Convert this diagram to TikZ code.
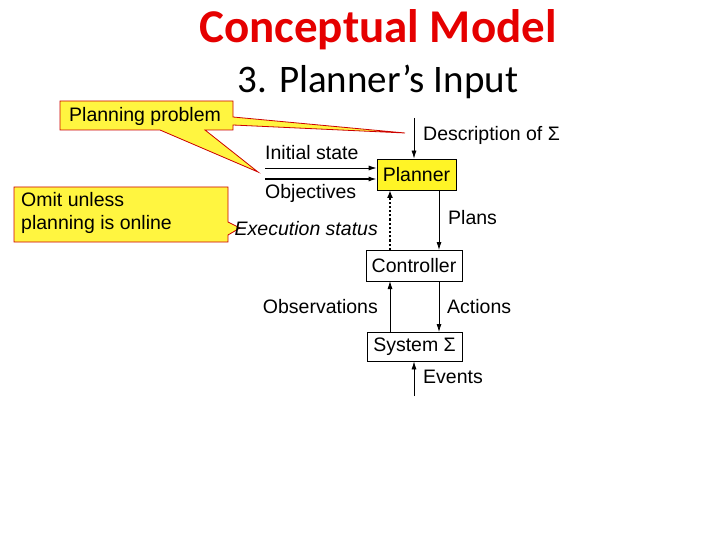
\documentclass[tikz,border=0pt]{standalone}
\usepackage{fontspec}
\setmainfont{Liberation Sans}
\newfontfamily\carlitofont{Carlito}
\usetikzlibrary{arrows.meta}
\begin{document}
\begin{tikzpicture}[x=1pt,y=-1pt,
  lbl/.style={font=\fontsize{19.5}{21}\selectfont,inner sep=0pt},
  blk/.style={draw,thick,font=\fontsize{19.5}{21}\selectfont,inner sep=0pt},
  arr/.style={-{Latex[length=8pt,width=5pt]},line width=0.8pt},
  callout/.style={fill=yellow!75!white,draw=red!80!black,thick},
  ctext/.style={font=\fontsize{19.5}{23}\selectfont,inner sep=0pt,align=left}]
\useasboundingbox (0,0) rectangle (720,540);
\node[font=\carlitofont\bfseries\fontsize{47}{50}\selectfont,text=red!90!black] (t1) at (378,30) {Conceptual Model};
\node[font=\carlitofont\fontsize{39}{42}\selectfont] (t2) at (378,82) {3. Planner’s Input};
% callouts
\draw[callout] (60,101) -- (233,101) -- (233,117) -- (405,133) -- (233,125) -- (233,130) -- (205,130) -- (258,172) -- (160,130) -- (60,130) -- cycle;
\node[ctext,anchor=west] (pp) at (69,116) {Planning problem};
\draw[callout] (14,187) -- (228,187) -- (228,222) -- (240,228) -- (228,235) -- (228,242) -- (14,242) -- cycle;
\node[ctext,anchor=north west] (om) at (21,192) {Omit unless\\planning is online};
% blocks
\node[blk,fill=yellow!85!white,minimum width=79pt,minimum height=31pt] (pl) at (416.5,174.5) {Planner};
\node[blk,minimum width=96pt,minimum height=31pt] (co) at (414,265.5) {Controller};
\node[blk,minimum width=95pt,minimum height=29pt] (sy) at (414.5,346.5) {System Σ};
\coordinate (dtop) at (414,118);
\coordinate (is) at (265,168);
\coordinate (ob) at (265,179);
\coordinate (ev) at (414,396);
\draw[arr] (dtop) -- (dtop|-pl.north);
\draw[arr] (is) -- (is-|pl.west);
\draw[arr,line width=1.2pt] (ob) -- (ob-|pl.west);
\draw[-{Latex[length=8pt,width=6pt]},dotted,line width=2.2pt] (390,250) -- (390,190);
\draw[arr] (439,190) -- (439,250);
\draw[arr] (390,332) -- (390,281);
\draw[arr] (439,281) -- (439,332);
\draw[arr] (ev) -- (ev|-sy.south);
\node[lbl,anchor=west] (ld) at (423,135) {Description of Σ};
\node[lbl,anchor=west] (li) at (265,153) {Initial state};
\node[lbl,anchor=west] (lo) at (265,193) {Objectives};
\node[lbl,anchor=east,font=\itshape\fontsize{19.5}{21}\selectfont] (le) at (378,229) {Execution status};
\node[lbl,anchor=west] (lp) at (448,218) {Plans};
\node[lbl,anchor=east] (lob) at (378,307) {Observations};
\node[lbl,anchor=west] (la) at (447,307) {Actions};
\node[lbl,anchor=west] (lev) at (423,377) {Events};
\end{tikzpicture}
\end{document}
